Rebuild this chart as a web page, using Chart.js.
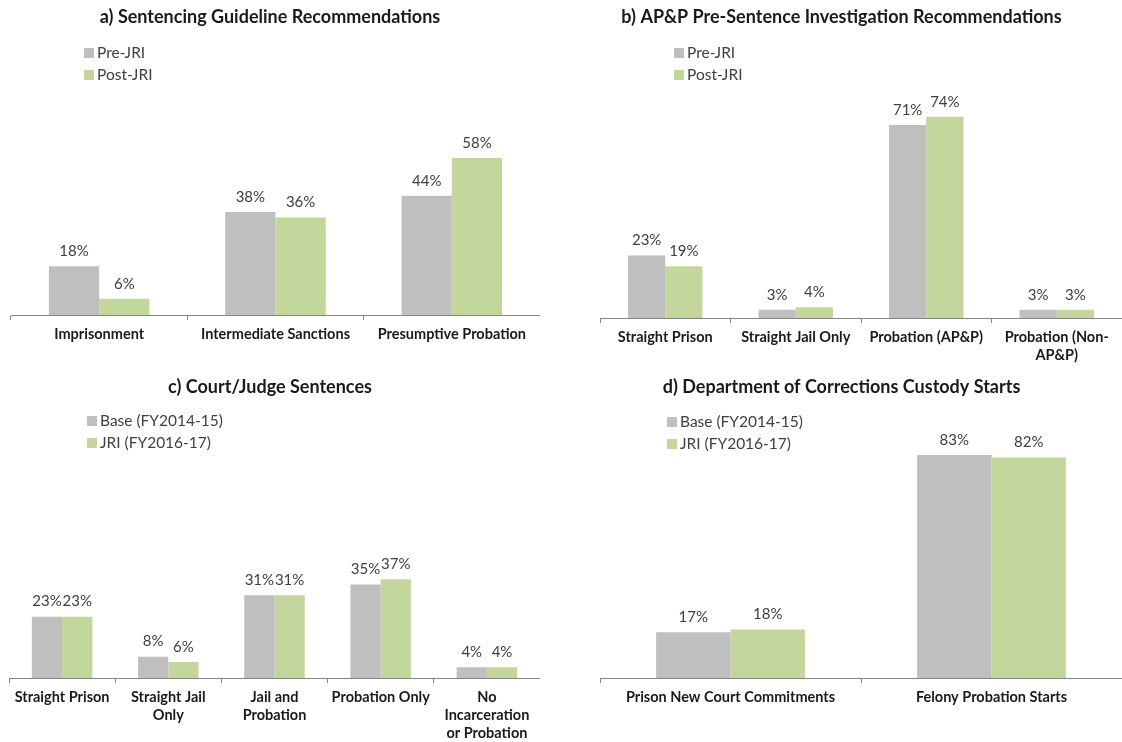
<!DOCTYPE html>
<html>
<head>
<meta charset="utf-8">
<script src="https://cdn.jsdelivr.net/npm/chart.js@4.4.1/dist/chart.umd.min.js"></script>
<style>
  html, body { margin: 0; padding: 0; background: #fff; }
  body { width: 1122px; height: 742px; position: relative; overflow: hidden; }
  canvas { position: absolute; }
</style>
</head>
<body>
<canvas id="chart-a" width="540" height="370" style="left:0;top:0"></canvas>
<canvas id="chart-b" width="561" height="370" style="left:561px;top:0"></canvas>
<canvas id="chart-c" width="540" height="372" style="left:0;top:370px"></canvas>
<canvas id="chart-d" width="561" height="372" style="left:561px;top:370px"></canvas>
<script>
// Data
const categoriesA = ['Imprisonment', 'Intermediate Sanctions', 'Presumptive Probation'];
const preJriA = [18, 38, 44];
const postJriA = [6, 36, 58];

const categoriesB = ['Straight Prison', 'Straight Jail Only', 'Probation (AP&P)', ['Probation (Non-', 'AP&P)']];
const preJriB = [23, 3, 71, 3];
const postJriB = [19, 4, 74, 3];

const categoriesC = ['Straight Prison', ['Straight Jail', 'Only'], ['Jail and', 'Probation'], 'Probation Only', ['No', 'Incarceration', 'or Probation']];
const baseC = [23, 8, 31, 35, 4];
const jriC = [23, 6, 31, 37, 4];

const categoriesD = ['Prison New Court Commitments', 'Felony Probation Starts'];
const baseD = [17, 83];
const jriD = [18, 82];

const preLabels = ['Pre-JRI', 'Post-JRI'];
const periodLabels = ['Base (FY2014-15)', 'JRI (FY2016-17)'];

const GREY = '#bfbfbf';
const GREEN = '#c3d69b';

Chart.defaults.font.family = 'Lato, "Open Sans", sans-serif';
Chart.defaults.color = '#262626';

// Value labels above each bar
const barValues = {
    id: 'barValues',
    afterDatasetsDraw(chart) {
        const ctx = chart.ctx;
        ctx.save();
        ctx.font = '15px Lato, sans-serif';
        ctx.fillStyle = '#404040';
        ctx.textAlign = 'center';
        ctx.textBaseline = 'middle';
        chart.data.datasets.forEach((ds, i) => {
            chart.getDatasetMeta(i).data.forEach((bar, j) => {
                ctx.fillText(ds.data[j] + '%', bar.x, bar.y - 15);
            });
        });
        ctx.restore();
    }
};

// Vertical legend sitting inside the plot, like the original
const boxLegend = {
    id: 'boxLegend',
    afterDraw(chart, args, opts) {
        const ctx = chart.ctx;
        ctx.save();
        ctx.font = '15.5px Lato, sans-serif';
        ctx.textBaseline = 'middle';
        chart.data.datasets.forEach((ds, i) => {
            const y = opts.y + i * opts.gap;
            ctx.fillStyle = ds.backgroundColor;
            ctx.fillRect(opts.x, y - 5, 10, 10);
            ctx.fillStyle = '#404040';
            ctx.fillText(ds.label, opts.x + 13, y);
        });
        ctx.restore();
    }
};

function makeChart(id, p) {
    return new Chart(document.getElementById(id), {
        type: 'bar',
        data: {
            labels: p.labels,
            datasets: [
                { label: p.names[0], data: p.first, backgroundColor: GREY },
                { label: p.names[1], data: p.second, backgroundColor: GREEN }
            ]
        },
        options: {
            responsive: false,
            animation: false,
            devicePixelRatio: 1,
            categoryPercentage: 0.57,
            barPercentage: 1,
            layout: { padding: 0 },
            plugins: {
                legend: { display: false },
                tooltip: { enabled: false },
                title: {
                    display: true,
                    text: p.title,
                    color: '#1a1a1a',
                    font: { size: 18, weight: 'bold' },
                    padding: { top: 6, bottom: p.titleGap }
                },
                boxLegend: { x: p.legendX, y: p.legendY, gap: 22 }
            },
            scales: {
                x: {
                    grid: { display: true, offset: true, drawOnChartArea: false, drawTicks: true, tickLength: 5, color: '#868686' },
                    border: { display: true, color: '#868686', width: 1 },
                    ticks: {
                        autoSkip: false,
                        maxRotation: 0,
                        padding: 5,
                        color: '#1a1a1a',
                        font: { size: 14.5, weight: 'bold', lineHeight: 1.26 }
                    },
                    afterFit: s => { s.height = p.axisHeight; }
                },
                y: {
                    min: 0,
                    max: 100,
                    ticks: { display: false },
                    grid: { display: false, drawTicks: false },
                    border: { display: false },
                    afterFit: s => { s.width = p.leftOffset; }
                }
            }
        },
        plugins: [barValues, boxLegend]
    });
}

// a) Sentencing Guideline Recommendations
makeChart('chart-a', {
    labels: categoriesA, names: preLabels, first: preJriA, second: postJriA,
    title: 'a) Sentencing Guideline Recommendations',
    titleGap: 16.6, axisHeight: 55, leftOffset: 11, legendX: 84, legendY: 53
});

// b) AP&P Pre-Sentence Investigation Recommendations
makeChart('chart-b', {
    labels: categoriesB, names: preLabels, first: preJriB, second: postJriB,
    title: 'b) AP&P Pre-Sentence Investigation Recommendations',
    titleGap: 18.6, axisHeight: 52, leftOffset: 39, legendX: 113, legendY: 53
});

// c) Court/Judge Sentences
makeChart('chart-c', {
    labels: categoriesC, names: periodLabels, first: baseC, second: jriC,
    title: 'c) Court/Judge Sentences',
    titleGap: 13.6, axisHeight: 64, leftOffset: 9, legendX: 87, legendY: 51
});

// d) Department of Corrections Custody Starts
makeChart('chart-d', {
    labels: categoriesD, names: periodLabels, first: baseD, second: jriD,
    title: 'd) Department of Corrections Custody Starts',
    titleGap: 11.6, axisHeight: 64, leftOffset: 39, legendX: 106, legendY: 52
});
</script>
</body>
</html>
